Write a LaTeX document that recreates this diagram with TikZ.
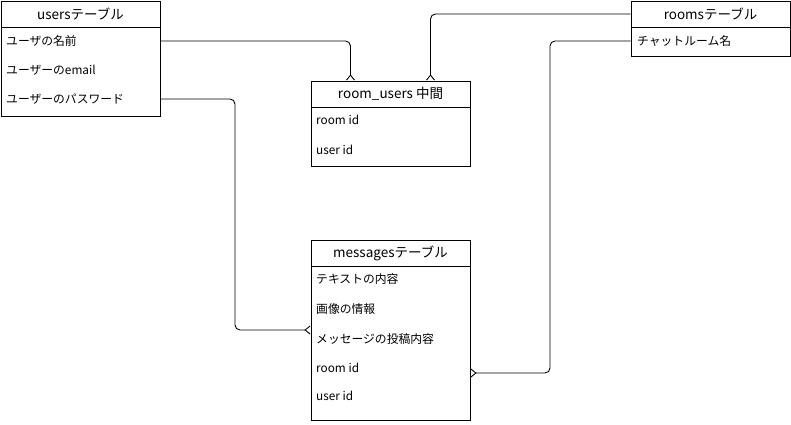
\documentclass[tikz,border=0pt]{standalone}
\usepackage{fontspec}
\setmainfont{Noto Sans CJK JP}
\usepackage{tikz}
\usetikzlibrary{arrows.meta,calc}

\begin{document}
\begin{tikzpicture}[x=1pt,y=-1pt]
  \tikzstyle{tableHead} = [draw, line width=0.9pt, rectangle, minimum width=159pt, minimum height=26pt, inner sep=0pt, font={\fontsize{13.5}{15}\selectfont}]
  \tikzstyle{tableBody} = [draw, line width=0.9pt, rectangle, minimum width=159pt, anchor=north, inner sep=0pt]
  \tikzstyle{rowText} = [anchor=west, inner sep=0pt, font={\fontsize{11.8}{13}\selectfont}]
  \tikzstyle{relEdge} = [line width=0.9pt, rounded corners=5pt, -{Straight Barb[reversed,length=5pt,width=8pt]}];
  \useasboundingbox (0,0) rectangle (791,424);

  % users
  \node[tableHead, name=usersHead] at (80.5,14) {usersテーブル};
  \node[tableBody, name=usersBody, minimum height=89pt] at (usersHead.south) {};
  \node[rowText, name=usersName] at (6,41) {ユーザの名前};
  \node[rowText, name=usersMail] at (6,70) {ユーザーのemail};
  \node[rowText, name=usersPass] at (6,99) {ユーザーのパスワード};

  % room_users
  \node[tableHead, name=roomUsersHead] at (390.5,94) {room\_users 中間};
  \node[tableBody, name=roomUsersBody, minimum height=59pt] at (roomUsersHead.south) {};
  \node[rowText, name=roomUsersRoom] at (316,120) {room id};
  \node[rowText, name=roomUsersUser] at (316,150) {user id};

  % rooms
  \node[tableHead, name=roomsHead] at (710.5,14) {roomsテーブル};
  \node[tableBody, name=roomsBody, minimum height=29pt] at (roomsHead.south) {};
  \node[rowText, name=roomsChat] at (637,41) {チャットルーム名};

  % messages
  \node[tableHead, name=msgHead] at (390.5,253) {messagesテーブル};
  \node[tableBody, name=msgBody, minimum height=154pt] at (msgHead.south) {};
  \node[rowText, name=msgText] at (316,279) {テキストの内容};
  \node[rowText, name=msgImage] at (316,309) {画像の情報};
  \node[rowText, name=msgPost] at (316,339) {メッセージの投稿内容};
  \node[rowText, name=msgRoom] at (316,368) {room id};
  \node[rowText, name=msgUser] at (316,396) {user id};

  \coordinate (userJoin) at (235,330);
  \coordinate (roomJoin) at (550,373);

  \draw[relEdge] (usersBody.east |- usersName) -| ([xshift=-40pt]roomUsersHead.north);
  \draw[relEdge] (roomsHead.west) -| ([xshift=40pt]roomUsersHead.north);
  \draw[relEdge] (usersBody.east |- usersPass) -| (userJoin) -- (msgBody.west |- userJoin);
  \draw[relEdge] (roomsBody.west |- roomsChat) -| (roomJoin) -- (msgBody.east |- roomJoin);
\end{tikzpicture}
\end{document}
